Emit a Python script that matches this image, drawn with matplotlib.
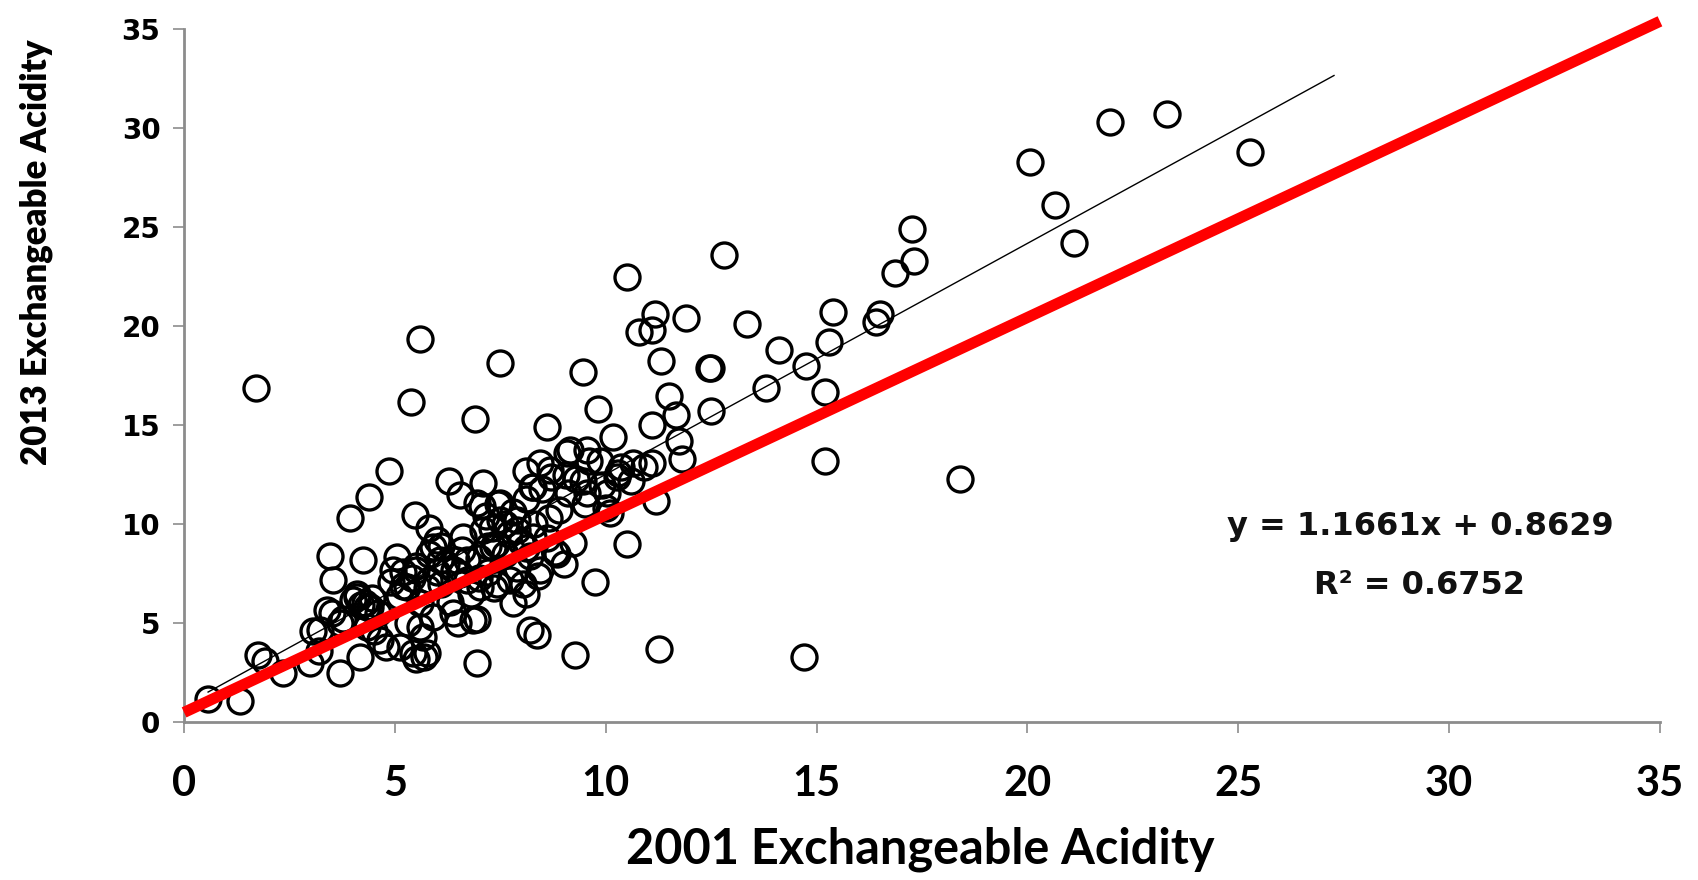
import matplotlib
matplotlib.use("Agg")
import matplotlib.pyplot as plt
import numpy as np

# 2001 vs 2013 exchangeable acidity
x2001 = [0.57, 1.33, 1.75, 1.92, 2.35, 2.98, 3.06, 3.2, 3.38, 3.45, 3.54, 3.5, 3.7, 3.77, 3.93,
         4.0, 4.09, 4.17, 4.25, 4.33, 4.39, 4.3, 4.4, 4.5, 4.6, 4.8, 4.87, 4.9, 5.04, 5.1,
         5.2, 5.2, 5.3, 5.37, 5.4, 5.43, 5.48, 5.5, 5.5, 5.6, 5.6, 5.67, 5.7, 5.75, 5.8,
         5.8, 5.9, 5.99, 6.0, 6.1, 6.2, 6.29, 6.3, 6.4, 6.5, 6.54, 6.54, 6.62, 6.6, 6.7,
         6.8, 6.9, 6.94, 6.94, 7.0, 7.0, 7.06, 7.1, 7.2, 7.2, 7.3, 7.35, 7.41, 7.4, 7.5,
         7.5, 7.6, 7.6, 7.7, 7.8, 7.8, 7.9, 7.9, 8.0, 8.04, 8.1, 8.1, 8.12, 8.2, 8.2,
         8.3, 8.36, 8.4, 8.44, 8.5, 8.6, 8.6, 8.7, 8.8, 8.9, 9.0, 9.1, 9.15, 9.23, 9.27,
         9.3, 9.47, 9.5, 9.6, 9.74, 9.82, 9.9, 10.0, 10.1, 10.18, 10.3, 10.5, 10.5, 10.6, 10.8,
         10.9, 11.1, 11.1, 11.1, 11.17, 11.2, 11.27, 11.3, 11.5, 11.66, 11.74, 11.8, 11.9, 12.45, 12.5,
         12.5, 12.8, 13.35, 13.8, 14.1, 14.74, 14.7, 15.2, 15.2, 15.3, 15.4, 16.4, 16.5, 16.85, 17.3,
         17.26, 18.4, 20.06, 20.65, 21.1, 21.96, 23.3, 25.27, 1.7, 4.2, 4.45, 5.8, 6.1, 7.15, 7.45,
         8.25, 8.65, 9.05, 9.55, 10.35,
         7.49, 7.89, 8.27, 8.68, 9.07, 9.46, 9.86, 10.26, 10.65, 7.09, 7.33, 8.28, 8.44, 8.12, 7.73,
         8.84, 6.46, 5.9, 5.5, 6.7, 6.94, 9.55, 10.02,
         4.09, 4.33, 4.96, 5.28, 5.59, 5.75, 6.07, 6.38, 6.86, 7.02, 4.65, 5.12, 3.7, 3.22]
y2013 = [1.2, 1.1, 3.4, 3.1, 2.5, 3.0, 4.6, 3.6, 5.67, 8.4, 7.2, 5.5, 2.5, 5.2, 10.3,
         6.2, 6.5, 3.3, 8.2, 4.83, 11.4, 6.0, 5.8, 4.6, 5.5, 3.8, 12.7, 7.1, 8.36, 6.4,
         7.6, 6.9, 5.0, 16.2, 7.3, 3.5, 10.47, 7.9, 3.2, 19.35, 6.0, 4.3, 3.3, 6.8, 8.5,
         7.2, 5.3, 9.2, 7.6, 7.0, 8.0, 12.2, 6.1, 7.7, 5.0, 11.5, 7.5, 9.37, 8.7, 8.2,
         6.5, 15.3, 2.98, 5.2, 7.3, 8.3, 10.9, 12.07, 8.9, 7.6, 9.8, 6.8, 7.0, 9.0, 18.15,
         10.2, 8.5, 10.0, 9.5, 6.0, 10.6, 7.8, 9.7, 9.1, 7.0, 11.3, 8.8, 12.7, 4.66, 8.4,
         10.0, 4.4, 7.4, 13.1, 11.8, 14.9, 9.3, 12.4, 8.6, 10.7, 8.0, 11.6, 13.75, 9.04, 3.4,
         12.3, 17.7, 11.0, 13.2, 7.1, 15.8, 12.0, 10.8, 10.55, 14.4, 12.6, 9.0, 22.5, 12.2, 19.7,
         12.9, 19.8, 15.0, 13.1, 20.6, 11.2, 3.7, 18.26, 16.5, 15.5, 14.2, 13.3, 20.4, 17.9, 17.9,
         15.7, 23.6, 20.1, 16.9, 18.8, 18.0, 3.3, 13.2, 16.7, 19.2, 20.7, 20.2, 20.6, 22.7, 23.3,
         24.9, 12.3, 28.3, 26.1, 24.2, 30.3, 30.7, 28.8, 16.9, 5.9, 6.3, 9.8, 8.9, 10.4, 11.0,
         11.9, 10.3, 12.5, 11.6, 12.9,
         11.07, 10.2, 11.9, 12.74, 13.6, 12.2, 13.2, 12.4, 13.1, 9.7, 8.87, 9.37, 7.7, 6.5, 7.2,
         8.5, 8.2, 8.87, 7.7, 7.2, 11.06, 13.75, 11.56,
         6.34, 5.84, 7.7, 6.85, 4.83, 3.48, 8.2, 5.5, 5.17, 6.85, 4.16, 3.82, 5.0, 4.66]

slope, intercept = 1.1661, 0.8629
r_squared = 0.6752
forecast_forward = 2.0

ref_x = [0, 35]
ref_y = [0.5, 35.4]

xticks = [0, 5, 10, 15, 20, 25, 30, 35]
yticks = [0, 5, 10, 15, 20, 25, 30, 35]

fig = plt.figure(figsize=(16.98, 8.80), dpi=100)
ax = fig.add_axes([0.1084, 0.1792, 0.8692, 0.7876])

ax.plot(x2001, y2013, linestyle="none", marker="o", markersize=18,
        markerfacecolor="none", markeredgecolor="black", markeredgewidth=2.4, zorder=3)

tx = np.array([min(x2001), max(x2001) + forecast_forward])
ax.plot(tx, slope * tx + intercept, color="black", linewidth=1.0, zorder=4)

ax.plot(ref_x, ref_y, color="#ff0000", linewidth=8, solid_capstyle="butt",
        zorder=5, clip_on=False)

ax.set_xlim(0, 35)
ax.set_ylim(0, 35)
ax.set_xticks(xticks)
ax.set_yticks(yticks)
for s in ["top", "right"]:
    ax.spines[s].set_visible(False)
for s in ["left", "bottom"]:
    ax.spines[s].set_color("#8c8c8c")
    ax.spines[s].set_linewidth(2)
ax.tick_params(axis="both", direction="out", length=8, width=1.2, color="#8c8c8c")
ax.tick_params(axis="x", pad=23)
ax.tick_params(axis="y", pad=9)

for lab in ax.get_xticklabels():
    lab.set_fontfamily("Lato")
    lab.set_fontweight("bold")
    lab.set_fontsize(30)
for lab in ax.get_yticklabels():
    lab.set_fontfamily("DejaVu Sans")
    lab.set_fontweight("bold")
    lab.set_fontsize(20)

ax.set_xlabel("2001 Exchangeable Acidity", fontfamily="Lato", fontweight="bold",
              fontsize=35, va="baseline")
ax.xaxis.set_label_coords(0.4986, -0.203)
ax.set_ylabel("2013 Exchangeable Acidity", fontfamily="Lato", fontweight="heavy",
              fontsize=25, va="baseline", rotation_mode="anchor")
ax.yaxis.set_label_coords(-0.0932, 0.6786)

ax.text(0.8373, 0.2818, f"y = {slope:.4f}x + {intercept:.4f}",
        transform=ax.transAxes, ha="center", va="center", fontsize=23,
        fontfamily="DejaVu Sans", fontweight="bold", color="#111111")
ax.text(0.8373, 0.198, f"R² = {r_squared:.4f}",
        transform=ax.transAxes, ha="center", va="center", fontsize=23,
        fontfamily="DejaVu Sans", fontweight="bold", color="#111111")

fig.savefig("out.png", dpi=100)
